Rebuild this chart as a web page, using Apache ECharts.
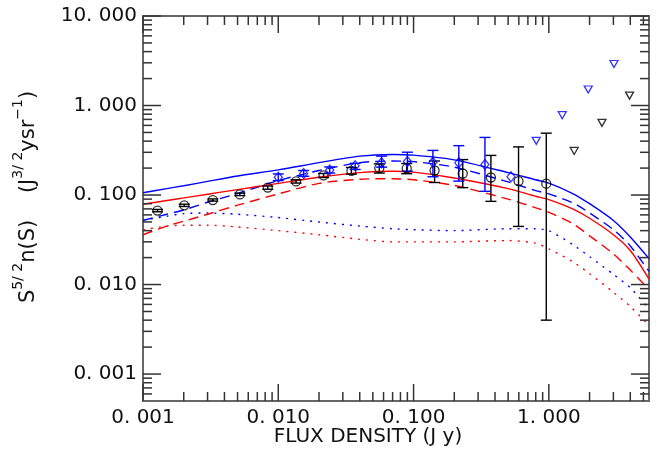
<!DOCTYPE html>
<html><head><meta charset="utf-8">
<script src="https://cdn.jsdelivr.net/npm/echarts@6/dist/echarts.min.js"></script>
<style>html,body{margin:0;padding:0;background:#fff}#c{width:663px;height:460px}</style>
</head><body><div id="c"></div>
<script>
const X_MIN = 0.001, X_MAX = 5.5, Y_MIN = 0.0005, Y_MAX = 10;
const xMajorTicks = [0.001, 0.01, 0.1, 1];
const xTickLabels = ['0. 001', '0. 010', '0. 100', '1. 000'];
const yMajorTicks = [0.001, 0.01, 0.1, 1, 10];
const yTickLabels = ['0. 001', '0. 010', '0. 100', '1. 000', '10. 000'];
const xMinorTicks = [0.002,0.003,0.004,0.005,0.006,0.007,0.008,0.009,
  0.02,0.03,0.04,0.05,0.06,0.07,0.08,0.09,
  0.2,0.3,0.4,0.5,0.6,0.7,0.8,0.9, 2,3,4,5];
const yMinorTicks = [0.0006,0.0007,0.0008,0.0009,
  0.002,0.003,0.004,0.005,0.006,0.007,0.008,0.009,
  0.02,0.03,0.04,0.05,0.06,0.07,0.08,0.09,
  0.2,0.3,0.4,0.5,0.6,0.7,0.8,0.9, 2,3,4,5,6,7,8,9];

// model curves (flux density grid)
const modelS     = [0.001,0.0015,0.002,0.003,0.005,0.01,0.02,0.04,0.07,0.1,0.2,0.5,0.8,1,1.5,2,3,4,5.5];
const blueSolid  = [0.106,0.118,0.127,0.142,0.163,0.191,0.230,0.272,0.284,0.279,0.247,0.178,0.148,0.136,0.104,0.080,0.052,0.034,0.0195];
const blueDashed = [0.052,0.061,0.068,0.083,0.104,0.145,0.188,0.230,0.240,0.236,0.205,0.140,0.112,0.103,0.082,0.063,0.041,0.027,0.014];
const blueDotted = [0.052,0.058,0.062,0.063,0.061,0.056,0.050,0.045,0.042,0.041,0.040,0.042,0.042,0.040,0.028,0.0205,0.013,0.0092,0.0053];
const redSolid   = [0.079,0.0868,0.0928,0.102,0.115,0.135,0.158,0.178,0.184,0.180,0.155,0.118,0.097,0.089,0.070,0.055,0.036,0.024,0.0115];
const redDashed  = [0.036,0.045,0.051,0.061,0.077,0.103,0.135,0.150,0.152,0.148,0.128,0.090,0.072,0.064,0.048,0.035,0.022,0.0145,0.0088];
const redDotted  = [0.041,0.045,0.046,0.046,0.044,0.040,0.036,0.032,0.030,0.030,0.030,0.031,0.029,0.025,0.018,0.0132,0.0082,0.0057,0.0035];

// black circles with error bars
const circS  = [0.00128,0.00202,0.00328,0.0052,0.00836,0.01353,0.0216,0.0347,0.0558,0.089,0.143,0.231,0.373,0.597,0.957];
const circY  = [0.067,0.0767,0.0879,0.1016,0.121,0.142,0.1656,0.1866,0.200,0.199,0.188,0.174,0.157,0.143,0.134];
const circLo = [0.065,0.0745,0.0855,0.0985,0.116,0.136,0.157,0.171,0.176,0.173,0.138,0.121,0.085,0.0446,0.0040];
const circHi = [0.069,0.0790,0.0905,0.1050,0.126,0.148,0.174,0.203,0.223,0.225,0.240,0.249,0.277,0.345,0.491];

// blue diamonds with error bars
const diamS  = [0.0100,0.0154,0.024,0.037,0.058,0.090,0.139,0.216,0.337,0.525];
const diamY  = [0.158,0.174,0.190,0.212,0.229,0.237,0.233,0.229,0.219,0.160];
const diamLo = [0.145,0.162,0.176,0.193,0.205,0.185,0.160,0.143,0.110,null];
const diamHi = [0.172,0.188,0.206,0.226,0.272,0.301,0.315,0.356,0.440,null];

// upper limits (triangles)
const blueTriS  = [0.807,1.256,1.955,3.03];
const blueTriY  = [0.403,0.78,1.51,2.91];
const blackTriS = [1.54,2.47,3.95];
const blackTriY = [0.311,0.64,1.29];

const BLUE = '#0000ff', RED = '#ff0000', FONT = 'DejaVu Sans';

function labelFmt(ticks, labels) {
  return function (v) {
    const i = ticks.findIndex(t => Math.abs(Math.log10(t) - Math.log10(v)) < 1e-6);
    return i >= 0 ? labels[i] : '';
  };
}

function lineSeries(data, color, type) {
  return {
    type: 'line', data: modelS.map((s, i) => [s, data[i]]),
    showSymbol: false, smooth: 0.25, z: 2, silent: true,
    lineStyle: { color: color, width: 1.4, type: type, cap: 'butt' }
  };
}

function errSeries(xs, lo, hi, color) {
  const d = [];
  xs.forEach((s, i) => { if (lo[i] != null) d.push([s, lo[i], hi[i]]); });
  return {
    type: 'custom', data: d, z: 3, silent: true, clip: false,
    encode: { x: 0, y: [1, 2] },
    renderItem: function (params, api) {
      const x = api.value(0);
      const pLo = api.coord([x, api.value(1)]);
      const pHi = api.coord([x, api.value(2)]);
      const hw = 5.5;
      const st = { stroke: color, lineWidth: 1.4, fill: null };
      return { type: 'group', children: [
        { type: 'line', shape: { x1: pLo[0], y1: pLo[1], x2: pHi[0], y2: pHi[1] }, style: st },
        { type: 'line', shape: { x1: pLo[0] - hw, y1: pLo[1], x2: pLo[0] + hw, y2: pLo[1] }, style: st },
        { type: 'line', shape: { x1: pHi[0] - hw, y1: pHi[1], x2: pHi[0] + hw, y2: pHi[1] }, style: st }
      ]};
    }
  };
}

const tickData = [];
xMajorTicks.forEach(v => tickData.push([v, 1, 0]));
xMinorTicks.forEach(v => tickData.push([v, 1, 1]));
yMajorTicks.forEach(v => tickData.push([0.01, v, 2]));
yMinorTicks.forEach(v => tickData.push([0.01, v, 3]));

const tickSeries = {
  type: 'custom', data: tickData, z: 5, silent: true, clip: false,
  encode: { x: 0, y: 1 },
  renderItem: function (params, api) {
    const cs = params.coordSys;
    const kind = api.value(2);
    const st = { stroke: '#333', lineWidth: 1.5 };
    if (kind < 2) {
      const px = api.coord([api.value(0), 1])[0];
      const len = kind === 0 ? 17 : 9;
      const b = cs.y + cs.height, t = cs.y;
      return { type: 'group', children: [
        { type: 'line', shape: { x1: px, y1: b, x2: px, y2: b - len }, style: st },
        { type: 'line', shape: { x1: px, y1: t, x2: px, y2: t + len }, style: st }
      ]};
    } else {
      const py = api.coord([0.01, api.value(1)])[1];
      const len = kind === 2 ? 18 : 9;
      const l = cs.x, r = cs.x + cs.width;
      return { type: 'group', children: [
        { type: 'line', shape: { x1: l, y1: py, x2: l + len, y2: py }, style: st },
        { type: 'line', shape: { x1: r, y1: py, x2: r - len, y2: py }, style: st }
      ]};
    }
  }
};

const chart = echarts.init(document.getElementById('c'), null, { renderer: 'canvas' });
chart.setOption({
  animation: false,
  backgroundColor: '#fff',
  grid: { left: 143, right: 14, top: 16, bottom: 59, show: true, borderColor: '#666', borderWidth: 2, backgroundColor: 'transparent' },
  xAxis: {
    type: 'log', logBase: 10, min: X_MIN, max: X_MAX,
    axisLine: { show: false }, axisTick: { show: false }, splitLine: { show: false },
    axisLabel: { fontSize: 20, color: '#111', fontFamily: FONT, margin: 7, formatter: labelFmt(xMajorTicks, xTickLabels) }
  },
  yAxis: {
    type: 'log', logBase: 10, min: Y_MIN, max: Y_MAX,
    axisLine: { show: false }, axisTick: { show: false }, splitLine: { show: false },
    axisLabel: { fontSize: 20, color: '#111', fontFamily: FONT, margin: 6, formatter: labelFmt(yMajorTicks, yTickLabels) }
  },
  graphic: [
    { type: 'text', x: 368, y: 437, silent: true,
      style: { text: 'FLUX DENSITY (J y)', font: '20px "DejaVu Sans"', fill: '#111', textAlign: 'center', textVerticalAlign: 'middle' } },
    { type: 'text', x: 25, y: 197, rotation: Math.PI / 2, silent: true,
      style: {
        text: '{m|S}{s|5/ 2}{m|n(S)    (J}{s|3/ 2}{m|ysr}{s|\u22121}{m|)}',
        textAlign: 'center', textVerticalAlign: 'middle', fill: '#111',
        rich: {
          m: { fontSize: 21, fontFamily: FONT, fill: '#111', lineHeight: 28, verticalAlign: 'bottom' },
          s: { fontSize: 14, fontFamily: FONT, fill: '#111', lineHeight: 28, verticalAlign: 'top' }
        }
      } }
  ],
  series: [
    lineSeries(blueSolid, BLUE, 'solid'),
    lineSeries(blueDashed, BLUE, [10, 6]),
    lineSeries(blueDotted, BLUE, [2, 6]),
    lineSeries(redSolid, RED, 'solid'),
    lineSeries(redDashed, RED, [10, 6]),
    lineSeries(redDotted, RED, [2, 6]),
    errSeries(circS, circLo, circHi, '#000'),
    errSeries(diamS, diamLo, diamHi, BLUE),
    { type: 'scatter', data: circS.map((s, i) => [s, circY[i]]), symbol: 'circle', symbolSize: 9, z: 4, silent: true,
      itemStyle: { color: 'rgba(0,0,0,0)', borderColor: '#000', borderWidth: 1.3 } },
    { type: 'scatter', data: diamS.map((s, i) => [s, diamY[i]]), symbol: 'diamond', symbolSize: [8, 10], z: 4, silent: true,
      itemStyle: { color: 'rgba(0,0,0,0)', borderColor: BLUE, borderWidth: 1.3 } },
    { type: 'scatter', data: blueTriS.map((s, i) => [s, blueTriY[i]]), symbol: 'triangle', symbolRotate: 180, symbolSize: [8, 7], z: 4, silent: true,
      itemStyle: { color: 'rgba(0,0,0,0)', borderColor: BLUE, borderWidth: 1.3 } },
    { type: 'scatter', data: blackTriS.map((s, i) => [s, blackTriY[i]]), symbol: 'triangle', symbolRotate: 180, symbolSize: [8, 7], z: 4, silent: true,
      itemStyle: { color: 'rgba(0,0,0,0)', borderColor: '#000', borderWidth: 1.3 } },
    tickSeries
  ]
});
</script></body></html>
